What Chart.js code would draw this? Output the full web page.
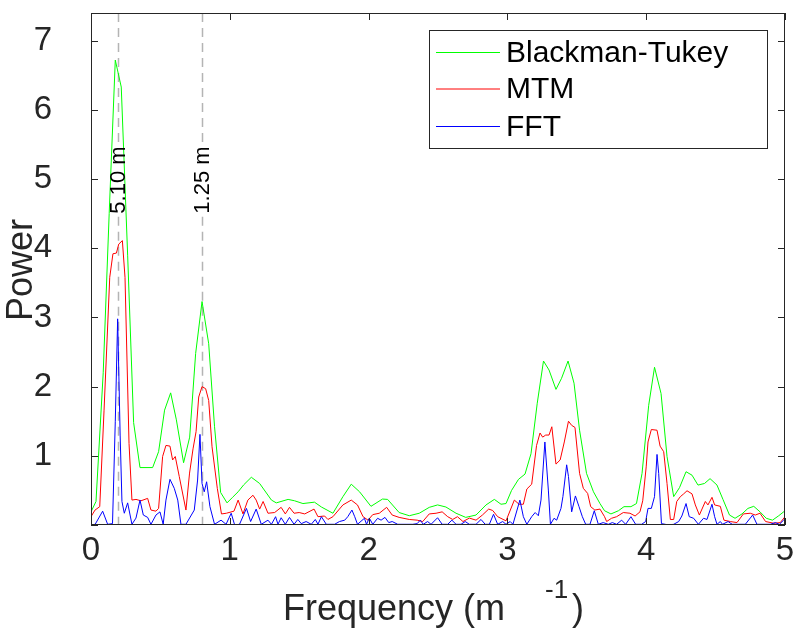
<!DOCTYPE html>
<html>
<head>
<meta charset="utf-8">
<script src="https://cdn.jsdelivr.net/npm/chart.js@4.4.1/dist/chart.umd.min.js"></script>
<style>
  html, body { margin: 0; padding: 0; background: #fff; }
  #wrap { width: 793px; height: 635px; }
</style>
</head>
<body>
<div id="wrap"><canvas id="spec" width="793" height="635"></canvas></div>
<script>
// spectra, [frequency (1/m), power]
const btPoints = [
  [0, 0.19], [0.036, 0.34], [0.088, 2.2], [0.131, 4.5], [0.175, 6.72], [0.218, 6.33], [0.264, 3.9],
  [0.307, 1.48], [0.353, 0.83], [0.444, 0.83], [0.487, 1.06], [0.53, 1.66], [0.574, 1.91], [0.615, 1.52],
  [0.667, 0.90], [0.711, 1.27], [0.754, 2.48], [0.80, 3.23], [0.848, 2.62], [0.89, 1.42], [0.934, 0.47],
  [0.98, 0.32], [1.02, 0.40], [1.06, 0.48], [1.10, 0.58], [1.155, 0.69], [1.215, 0.60], [1.30, 0.36],
  [1.335, 0.32], [1.42, 0.37], [1.467, 0.35], [1.527, 0.31], [1.61, 0.33], [1.66, 0.26], [1.743, 0.17],
  [1.815, 0.41], [1.875, 0.59], [1.935, 0.48], [2.017, 0.27], [2.10, 0.375], [2.137, 0.37], [2.22, 0.18],
  [2.293, 0.134], [2.365, 0.17], [2.437, 0.255], [2.497, 0.29], [2.557, 0.26], [2.63, 0.17], [2.70, 0.11],
  [2.774, 0.144], [2.846, 0.29], [2.906, 0.37], [2.954, 0.30], [2.99, 0.31], [3.03, 0.50], [3.08, 0.66],
  [3.127, 0.736], [3.17, 1.03], [3.215, 1.76], [3.26, 2.37], [3.30, 2.24], [3.35, 1.96], [3.39, 2.12],
  [3.437, 2.37], [3.48, 2.05], [3.52, 1.37], [3.57, 0.746], [3.62, 0.48], [3.667, 0.31], [3.70, 0.206],
  [3.746, 0.16], [3.80, 0.206], [3.84, 0.265], [3.89, 0.265], [3.93, 0.31], [3.97, 0.746], [4.018, 1.73],
  [4.06, 2.28], [4.107, 1.90], [4.15, 0.99], [4.198, 0.41], [4.24, 0.54], [4.287, 0.77], [4.33, 0.72],
  [4.373, 0.577], [4.42, 0.60], [4.46, 0.67], [4.51, 0.577], [4.553, 0.37], [4.60, 0.144], [4.64, 0.097],
  [4.69, 0.16], [4.733, 0.24], [4.775, 0.27], [4.82, 0.19], [4.865, 0.097], [4.91, 0.07], [4.955, 0.134],
  [5.0, 0.206]
];

const mtmPoints = [
  [0, 0.12], [0.029, 0.216], [0.063, 0.265], [0.094, 1.66], [0.135, 3.58], [0.158, 3.92], [0.183, 3.93],
  [0.20, 4.06], [0.226, 4.11], [0.245, 3.58], [0.274, 1.18], [0.295, 0.36], [0.324, 0.37], [0.36, 0.35],
  [0.408, 0.385], [0.432, 0.216], [0.468, 0.20], [0.487, 0.24], [0.516, 0.99], [0.54, 1.15], [0.569, 1.14],
  [0.588, 0.94], [0.607, 0.99], [0.636, 0.70], [0.684, 0.216], [0.71, 0.75], [0.735, 1.1], [0.757, 1.35],
  [0.776, 1.85], [0.80, 2.0], [0.826, 1.97], [0.848, 1.80], [0.872, 1.13], [0.91, 0.53], [0.94, 0.16],
  [0.975, 0.17], [1.03, 0.2], [1.06, 0.36], [1.095, 0.16], [1.13, 0.36], [1.167, 0.43], [1.19, 0.36],
  [1.215, 0.23], [1.24, 0.34], [1.275, 0.17], [1.323, 0.18], [1.37, 0.255], [1.40, 0.16], [1.43, 0.255],
  [1.463, 0.17], [1.50, 0.18], [1.54, 0.16], [1.607, 0.23], [1.635, 0.12], [1.683, 0.13], [1.707, 0.08],
  [1.743, 0.12], [1.815, 0.29], [1.875, 0.36], [1.92, 0.29], [1.96, 0.12], [1.996, 0.07], [2.03, 0.15],
  [2.077, 0.17], [2.13, 0.255], [2.17, 0.144], [2.22, 0.11], [2.293, 0.08], [2.35, 0.07], [2.39, 0.05],
  [2.437, 0.16], [2.486, 0.17], [2.53, 0.19], [2.57, 0.12], [2.606, 0.08], [2.64, 0.12], [2.68, 0.05],
  [2.726, 0.10], [2.774, 0.07], [2.82, 0.144], [2.865, 0.23], [2.894, 0.21], [2.93, 0.12], [2.99, 0.06],
  [3.05, 0.36], [3.084, 0.30], [3.115, 0.30], [3.14, 0.52], [3.175, 0.59], [3.21, 1.15], [3.235, 1.33],
  [3.254, 1.27], [3.276, 1.30], [3.30, 1.30], [3.32, 1.42], [3.35, 0.88], [3.38, 0.94], [3.41, 1.20],
  [3.44, 1.50], [3.463, 1.44], [3.487, 1.41], [3.52, 0.746], [3.547, 0.53], [3.578, 0.457], [3.60, 0.265],
  [3.63, 0.216], [3.667, 0.23], [3.70, 0.12], [3.715, 0.05], [3.75, 0.097], [3.787, 0.12], [3.835, 0.18],
  [3.883, 0.17], [3.92, 0.13], [3.955, 0.19], [3.975, 0.35], [4.0, 0.84], [4.013, 1.20], [4.037, 1.38],
  [4.078, 1.37], [4.10, 1.14], [4.126, 1.06], [4.15, 0.60], [4.174, 0.08], [4.198, 0.08], [4.22, 0.34],
  [4.246, 0.41], [4.27, 0.45], [4.294, 0.495], [4.33, 0.45], [4.354, 0.29], [4.383, 0.144], [4.426, 0.34],
  [4.445, 0.29], [4.474, 0.40], [4.493, 0.29], [4.534, 0.27], [4.56, 0.07], [4.606, 0.05], [4.654, 0.035],
  [4.70, 0.16], [4.75, 0.17], [4.786, 0.144], [4.82, 0.17], [4.86, 0.05], [4.92, 0.025], [4.966, 0.035],
  [5.0, 0.12]
];

const fftPoints = [
  [0, 0], [0.03, 0.01], [0.084, 0.2], [0.12, 0.01], [0.155, 0.02], [0.175, 1.5], [0.192, 2.98], [0.21, 1.3],
  [0.223, 0.34], [0.24, 0.17], [0.264, 0.32], [0.295, 0.01], [0.324, 0.1], [0.353, 0.36], [0.377, 0.144],
  [0.408, 0.11], [0.432, 0.01], [0.468, 0.144], [0.497, 0.19], [0.52, 0.01], [0.54, 0.36], [0.569, 0.66],
  [0.60, 0.53], [0.625, 0.36], [0.648, 0.01], [0.684, 0.01], [0.744, 0.216], [0.768, 0.65], [0.785, 1.31],
  [0.80, 0.6], [0.816, 0.48], [0.833, 0.625], [0.857, 0.265], [0.89, 0.01], [0.937, 0.07], [0.973, 0.01],
  [1.01, 0.17], [1.035, 0], [1.07, 0.01], [1.12, 0.24], [1.15, 0.05], [1.19, 0.23], [1.227, 0.01],
  [1.275, 0.07], [1.30, 0.01], [1.33, 0.12], [1.347, 0.01], [1.37, 0.105], [1.40, 0.01], [1.43, 0.11],
  [1.463, 0.01], [1.49, 0.08], [1.515, 0.02], [1.55, 0.05], [1.587, 0.01], [1.616, 0.08], [1.635, 0.01],
  [1.66, 0.12], [1.695, 0.01], [1.755, 0.01], [1.79, 0.05], [1.828, 0.07], [1.85, 0.12], [1.88, 0.216],
  [1.90, 0.12], [1.92, 0.01], [1.97, 0.097], [1.985, 0.01], [2.005, 0.1], [2.03, 0.01], [2.065, 0.097],
  [2.09, 0.07], [2.118, 0.11], [2.145, 0.035], [2.17, 0.05], [2.21, 0.01], [2.27, 0.01], [2.318, 0.01],
  [2.35, 0.02], [2.372, 0.07], [2.394, 0.01], [2.425, 0.05], [2.45, 0.01], [2.497, 0.105], [2.53, 0.01],
  [2.57, 0.01], [2.60, 0.07], [2.63, 0.01], [2.666, 0.01], [2.696, 0.05], [2.726, 0.01], [2.774, 0.01],
  [2.81, 0.08], [2.84, 0.01], [2.87, 0.01], [2.90, 0.155], [2.93, 0.01], [2.966, 0.05], [2.99, 0.01],
  [3.02, 0.05], [3.04, 0.01], [3.09, 0.36], [3.115, 0.12], [3.14, 0.01], [3.175, 0.12], [3.20, 0.18],
  [3.223, 0.134], [3.242, 0.36], [3.27, 1.20], [3.295, 0.505], [3.31, 0.01], [3.336, 0.097], [3.355, 0.07],
  [3.386, 0.24], [3.40, 0.41], [3.427, 0.87], [3.44, 0.70], [3.463, 0.19], [3.49, 0.42], [3.516, 0.265],
  [3.54, 0.12], [3.564, 0.01], [3.595, 0.01], [3.626, 0.206], [3.655, 0.01], [3.69, 0.035], [3.727, 0.01],
  [3.756, 0.035], [3.787, 0.01], [3.823, 0.07], [3.852, 0.01], [3.89, 0.12], [3.924, 0.01], [3.967, 0.01],
  [3.996, 0.05], [4.013, 0.24], [4.037, 0.24], [4.06, 0.41], [4.078, 1.02], [4.09, 0.746], [4.11, 0.02],
  [4.137, 0.01], [4.16, 0], [4.198, 0.01], [4.234, 0.05], [4.257, 0.13], [4.287, 0.31], [4.31, 0.12],
  [4.342, 0.097], [4.376, 0.01], [4.413, 0.097], [4.438, 0.08], [4.474, 0.30], [4.493, 0.12], [4.51, 0.01],
  [4.534, 0.05], [4.55, 0.01], [4.59, 0.05], [4.62, 0.01], [4.666, 0.01], [4.714, 0.01], [4.767, 0.144],
  [4.798, 0.01], [4.846, 0.01], [4.894, 0.01], [4.93, 0.035], [4.96, 0.01], [4.99, 0.07], [5.0, 0.05]
];

const seriesNames = ['Blackman-Tukey', 'MTM', 'FFT'];
const seriesColors = ['#00ff00', '#ff0000', '#0000ff'];
// marked wavelengths (m) and where their labels start on the power axis
const markWavelengths = [5.10, 1.25];
const markLabelPower = 4.5;
const xTicks = [0, 1, 2, 3, 4, 5];
const yTicks = [0, 1, 2, 3, 4, 5, 6, 7];

const FONT = "'Liberation Sans', Arial, Helvetica, sans-serif";
const AXIS_COLOR = '#262626';
const MARK_FONT = '22px ' + FONT;

const toXY = (pts) => pts.map(p => ({ x: p[0], y: p[1] }));

// box, inside ticks, dashed markers, legend and axis titles (MATLAB look)
const matlabDecor = {
  id: 'matlabDecor',
  beforeDatasetsDraw(chart) {
    const { ctx, chartArea: a, scales: { x, y } } = chart;
    ctx.save();
    ctx.font = MARK_FONT;
    markWavelengths.forEach(w => {
      const px = Math.round(x.getPixelForValue(1 / w)) + 0.5;
      const labelBottom = y.getPixelForValue(markLabelPower);
      const labelTop = labelBottom - ctx.measureText(w.toFixed(2) + ' m').width;
      ctx.strokeStyle = '#b4b4b4';
      ctx.lineWidth = 1.5;
      ctx.setLineDash([9, 6]);
      ctx.beginPath();
      ctx.moveTo(px, a.top);
      ctx.lineTo(px, labelTop - 3);
      ctx.moveTo(px, labelBottom + 3);
      ctx.lineTo(px, a.bottom);
      ctx.stroke();
      ctx.setLineDash([]);
    });
    ctx.restore();
  },
  afterDatasetsDraw(chart) {
    const { ctx, chartArea: a, scales: { x, y } } = chart;
    ctx.save();

    // marker labels, rotated
    ctx.font = MARK_FONT;
    markWavelengths.forEach(w => {
      const px = x.getPixelForValue(1 / w);
      const py = y.getPixelForValue(markLabelPower);
      ctx.save();
      ctx.translate(px, py);
      ctx.rotate(-Math.PI / 2);
      ctx.fillStyle = '#000';
      ctx.textAlign = 'left';
      ctx.textBaseline = 'middle';
      ctx.fillText(w.toFixed(2) + ' m', 0, 1);
      ctx.restore();
    });

    // frame
    ctx.strokeStyle = AXIS_COLOR;
    ctx.lineWidth = 1;
    ctx.strokeRect(a.left + 0.5, a.top + 0.5, a.right - a.left - 1, a.bottom - a.top - 1);
    const tl = 7;
    ctx.beginPath();
    xTicks.forEach(v => {
      const px = Math.round(x.getPixelForValue(v)) + 0.5;
      ctx.moveTo(px, a.bottom); ctx.lineTo(px, a.bottom - tl);
      ctx.moveTo(px, a.top); ctx.lineTo(px, a.top + tl);
    });
    yTicks.forEach(v => {
      const py = Math.round(y.getPixelForValue(v)) + 0.5;
      ctx.moveTo(a.left, py); ctx.lineTo(a.left + tl, py);
      ctx.moveTo(a.right, py); ctx.lineTo(a.right - tl, py);
    });
    ctx.stroke();

    // legend
    const lx = 429.5, ly = 30.5, lw = 338, lh = 118;
    ctx.fillStyle = '#fff';
    ctx.fillRect(lx, ly, lw, lh);
    ctx.strokeStyle = AXIS_COLOR;
    ctx.strokeRect(lx, ly, lw, lh);
    ctx.font = '30px ' + FONT;
    ctx.textAlign = 'left';
    ctx.textBaseline = 'middle';
    const rowY = [52.5, 89, 126.5];
    seriesNames.forEach((name, i) => {
      ctx.strokeStyle = seriesColors[i];
      ctx.beginPath();
      ctx.moveTo(436, rowY[i]); ctx.lineTo(500, rowY[i]);
      ctx.stroke();
      ctx.fillStyle = '#000';
      ctx.fillText(name, 506, Math.round(rowY[i]) + 1);
    });

    // axis titles
    ctx.fillStyle = AXIS_COLOR;
    ctx.font = '36px ' + FONT;
    ctx.textBaseline = 'alphabetic';
    ctx.fillText('Frequency (m', 283, 620);
    ctx.font = '26px ' + FONT;
    ctx.fillText('-1', 545, 598);
    ctx.font = '36px ' + FONT;
    ctx.fillText(')', 572, 620);

    ctx.save();
    ctx.translate(32, 270);
    ctx.rotate(-Math.PI / 2);
    ctx.textAlign = 'center';
    ctx.textBaseline = 'alphabetic';
    ctx.fillText('Power', 0, 0);
    ctx.restore();

    ctx.restore();
  }
};

const ctx = document.getElementById('spec').getContext('2d');

const datasets = [btPoints, mtmPoints, fftPoints].map((pts, i) => ({
  label: seriesNames[i],
  data: toXY(pts),
  borderColor: seriesColors[i],
  backgroundColor: seriesColors[i],
  borderWidth: 1,
  pointRadius: 0,
  tension: 0,
  fill: false,
  order: 3 - i   // FFT drawn last, on top
}));

new Chart(ctx, {
  type: 'line',
  data: { datasets: datasets },
  options: {
    responsive: false,
    animation: false,
    layout: { padding: { left: 0, right: 8, top: 13, bottom: 0 } },
    plugins: {
      legend: { display: false },
      tooltip: { enabled: false }
    },
    scales: {
      x: {
        type: 'linear',
        min: 0,
        max: 5,
        grid: { display: false, drawTicks: false },
        border: { display: false },
        ticks: {
          autoSkip: false,
          maxRotation: 0,
          padding: 6,
          color: AXIS_COLOR,
          font: { family: FONT, size: 33 }
        },
        afterBuildTicks(s) { s.ticks = xTicks.map(v => ({ value: v })); },
        afterFit(s) { s.height = 110; s.paddingLeft = 0; s.paddingRight = 0; }
      },
      y: {
        type: 'linear',
        min: 0,
        max: 7.4,
        grid: { display: false, drawTicks: false },
        border: { display: false },
        ticks: {
          autoSkip: false,
          padding: 39,
          color: AXIS_COLOR,
          font: { family: FONT, size: 33 },
          callback: (v) => v > 0 ? String(v) : ''
        },
        afterBuildTicks(s) { s.ticks = yTicks.map(v => ({ value: v })); },
        afterFit(s) { s.width = 91; s.paddingTop = 0; s.paddingBottom = 0; }
      }
    }
  },
  plugins: [matlabDecor]
});
</script>
</body>
</html>
